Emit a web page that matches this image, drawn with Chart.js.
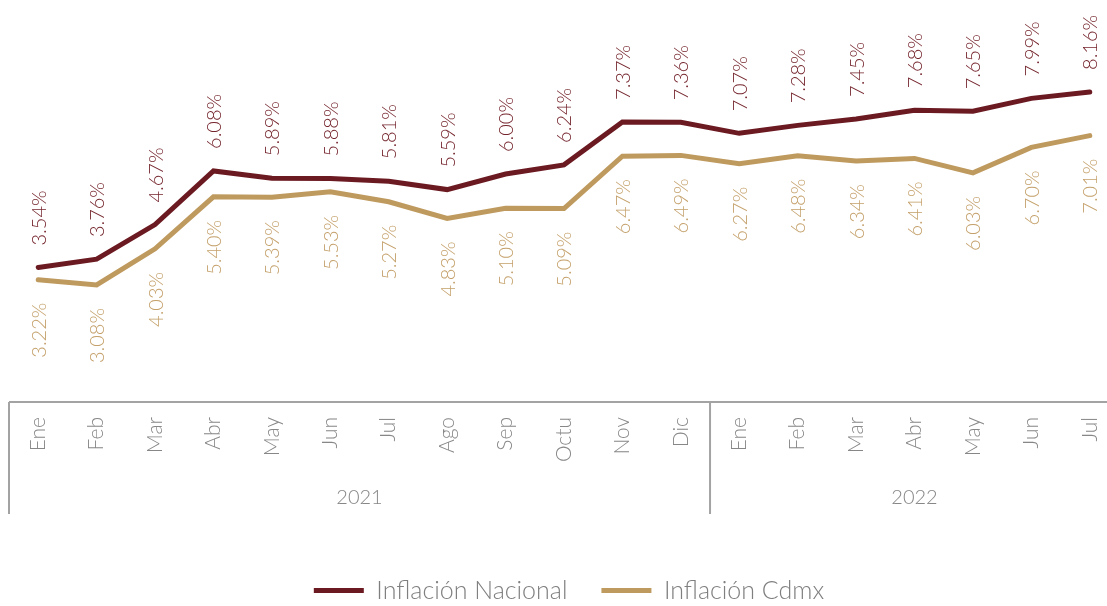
<!DOCTYPE html>
<html>
<head>
<meta charset="utf-8">
<script src="https://cdn.jsdelivr.net/npm/chart.js@4/dist/chart.umd.min.js"></script>
<style>
  html, body { margin: 0; padding: 0; background: #ffffff; overflow: hidden; }
  #wrap { position: absolute; left: 0; top: 0; width: 1130px; height: 613px; }
</style>
</head>
<body>
<div id="wrap"><canvas id="c" width="1130" height="613"></canvas></div>
<script>
const months = ['Ene','Feb','Mar','Abr','May','Jun','Jul','Ago','Sep','Octu','Nov','Dic',
                'Ene','Feb','Mar','Abr','May','Jun','Jul'];
const years = ['2021', '2022'];
const yearSpans = [[0, 11], [12, 18]];
const nacional = [3.54, 3.76, 4.67, 6.08, 5.89, 5.88, 5.81, 5.59, 6.00, 6.24, 7.37, 7.36,
                  7.07, 7.28, 7.45, 7.68, 7.65, 7.99, 8.16];
const cdmx = [3.22, 3.08, 4.03, 5.40, 5.39, 5.53, 5.27, 4.83, 5.10, 5.09, 6.47, 6.49,
              6.27, 6.48, 6.34, 6.41, 6.03, 6.70, 7.01];

const FONT = 'Lato, "Open Sans", sans-serif';
const C_NAC = '#6c1a22';
const C_CDMX = '#bf9a5f';
const C_NAC_TXT = '#74242c';
const C_CDMX_TXT = '#c4a06a';
const GRAY = '#878787';

const valueLabels = {
  id: 'valueLabels',
  afterDatasetsDraw(chart) {
    const ctx = chart.ctx;
    ctx.save();
    ctx.font = '300 20px ' + FONT;
    ctx.textBaseline = 'middle';
    chart.data.datasets.forEach((ds, di) => {
      const meta = chart.getDatasetMeta(di);
      meta.data.forEach((pt, i) => {
        const txt = ds.data[i].toFixed(2) + '%';
        ctx.save();
        if (di === 0) {
          ctx.translate(pt.x + 1, pt.y - 22);
          ctx.rotate(-Math.PI / 2);
          ctx.textAlign = 'left';
          ctx.fillStyle = C_NAC_TXT;
        } else {
          ctx.translate(pt.x + 1, pt.y + 23);
          ctx.rotate(-Math.PI / 2);
          ctx.textAlign = 'right';
          ctx.fillStyle = C_CDMX_TXT;
        }
        ctx.fillText(txt, 0, 0);
        ctx.restore();
      });
    });
    ctx.restore();
  }
};

const axisBox = {
  id: 'axisBox',
  afterDraw(chart) {
    const ctx = chart.ctx;
    const xs = chart.scales.x;
    const y0 = chart.chartArea.bottom;
    const depth = 112;
    ctx.save();
    ctx.strokeStyle = '#a3a3a3';
    ctx.lineWidth = 2;
    ctx.beginPath();
    ctx.moveTo(xs.getPixelForValue(-0.5), y0);
    ctx.lineTo(xs.getPixelForValue(months.length - 0.5), y0);
    ctx.stroke();
    yearSpans.forEach((sp) => {
      const xl = xs.getPixelForValue(sp[0] - 0.5);
      ctx.beginPath();
      ctx.moveTo(xl, y0);
      ctx.lineTo(xl, y0 + depth);
      ctx.stroke();
    });
    ctx.font = '300 20px ' + FONT;
    ctx.fillStyle = GRAY;
    ctx.textAlign = 'center';
    ctx.textBaseline = 'middle';
    yearSpans.forEach((sp, k) => {
      const xc = xs.getPixelForValue((sp[0] + sp[1]) / 2);
      ctx.fillText(years[k], xc, y0 + 96);
    });
    ctx.restore();
  }
};

new Chart(document.getElementById('c'), {
  type: 'line',
  data: {
    labels: months,
    datasets: [
      {
        label: 'Inflación Nacional',
        data: nacional,
        borderColor: C_NAC,
        backgroundColor: C_NAC,
        borderWidth: 5,
        borderCapStyle: 'round',
        pointRadius: 0,
        tension: 0,
        fill: false
      },
      {
        label: 'Inflación Cdmx',
        data: cdmx,
        borderColor: C_CDMX,
        backgroundColor: C_CDMX,
        borderWidth: 5,
        borderCapStyle: 'round',
        pointRadius: 0,
        tension: 0,
        fill: false
      }
    ]
  },
  options: {
    responsive: false,
    animation: false,
    layout: { padding: { left: 9, right: 1, top: 22, bottom: 0 } },
    plugins: {
      tooltip: { enabled: false },
      legend: {
        position: 'bottom',
        labels: {
          usePointStyle: true,
          pointStyle: 'line',
          pointStyleWidth: 50,
          padding: 34,
          color: '#7f7f7f',
          font: { family: FONT, size: 25, weight: '300' }
        }
      }
    },
    scales: {
      x: {
        offset: true,
        grid: { display: false, drawTicks: false },
        border: { display: false },
        ticks: {
          autoSkip: false,
          minRotation: 90,
          maxRotation: 90,
          padding: 15,
          color: GRAY,
          font: { family: FONT, size: 21, weight: '300' }
        },
        afterFit(scale) { scale.height = 142; }
      },
      y: {
        display: false,
        min: 0,
        max: 10
      }
    }
  },
  plugins: [valueLabels, axisBox]
});
</script>
</body>
</html>
